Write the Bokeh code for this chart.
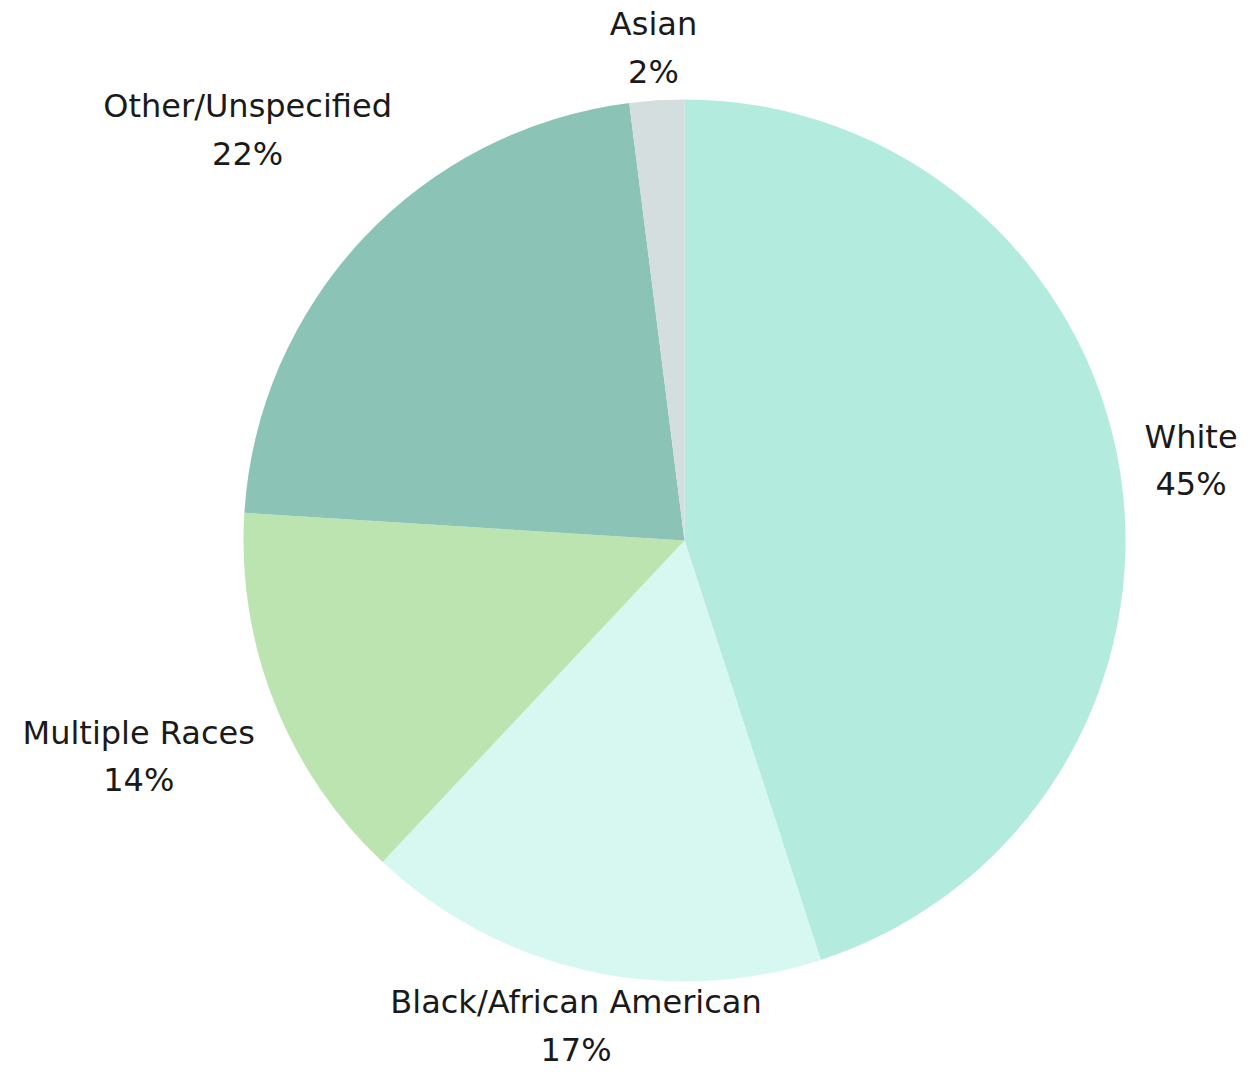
import math
from bokeh.plotting import figure
from bokeh.models import ColumnDataSource, Range1d
from bokeh.embed import file_html
from bokeh.resources import INLINE
from bokeh.core.properties import value

categories = ["White", "Black/African American", "Multiple Races", "Other/Unspecified", "Asian"]
percents = [45, 17, 14, 22, 2]
colors = ["#b3ebdf", "#d7f8f1", "#bce4b0", "#8bc4b6", "#d5dedf"]

W, H = 1240, 1070
cx, cy, r = 684, H - 540, 441
label_factor = [1.163, 1.128, 1.331, 1.359, 1.119]

total = sum(percents)
starts, ends, lx, ly, texts = [], [], [], [], []
cum = 0.0
for i, v in enumerate(percents):
    a0 = math.pi / 2 - 2 * math.pi * cum / total
    cum += v
    a1 = math.pi / 2 - 2 * math.pi * cum / total
    starts.append(a0)
    ends.append(a1)
    mid = (a0 + a1) / 2
    d = r * label_factor[i]
    lx.append(cx + d * math.cos(mid))
    ly.append(cy + d * math.sin(mid))
    texts.append(f"{categories[i]}\n{v}%")

src = ColumnDataSource(dict(start=starts, end=ends, color=colors, cat=categories))
lsrc = ColumnDataSource(dict(x=lx, y=ly, text=texts))

p = figure(width=W, height=H, output_backend="svg", toolbar_location=None,
           x_range=Range1d(0, W), y_range=Range1d(0, H), min_border=0)
p.axis.visible = False
p.grid.visible = False
p.outline_line_color = None
p.background_fill_color = "white"

p.wedge(x=cx, y=cy, radius=r, start_angle="start", end_angle="end",
        direction="clock", fill_color="color", line_color=None, source=src)

p.text(x="x", y="y", text="text", source=lsrc, text_align="center",
       text_baseline="middle", text_font=value("DejaVu Sans"),
       text_font_size="32px", text_color="#1a1a1a", text_line_height=1.25)

open("out.html", "w").write(file_html(p, INLINE))
